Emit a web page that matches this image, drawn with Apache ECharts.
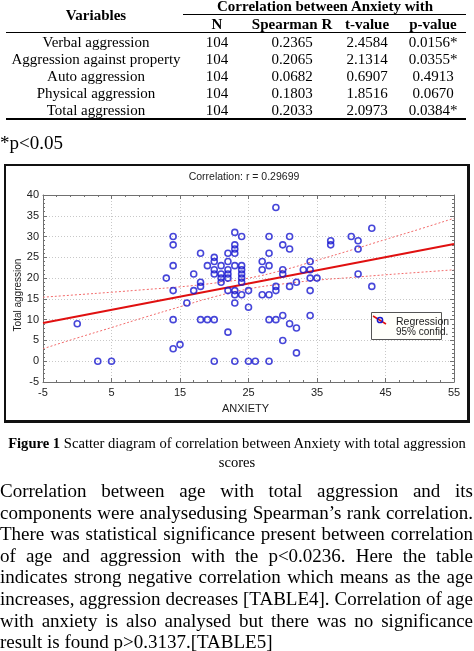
<!DOCTYPE html>
<html>
<head>
<meta charset="utf-8">
<script src="https://cdn.jsdelivr.net/npm/echarts@6/dist/echarts.min.js"></script>
<style>
html,body{margin:0;padding:0;background:#fff;}
body{width:474px;height:651px;position:relative;overflow:hidden;font-family:"Liberation Serif","Times New Roman",serif;color:#000;}
.t{position:absolute;white-space:nowrap;font-size:15px;line-height:15px;transform:translate(-50%,-50%);}
.b{font-weight:bold;}
.hl{position:absolute;background:#000;}
#frame{position:absolute;left:4px;top:164px;width:461px;height:254px;border:2px solid #111;border-right-width:3px;border-bottom-width:3px;}
#chart{position:absolute;left:0;top:0;width:474px;height:651px;}
.cap{position:absolute;left:0;width:474px;text-align:center;font-size:14.6px;line-height:19px;white-space:nowrap;}
.pl{position:absolute;left:0;width:473px;font-size:19px;line-height:21px;display:flex;justify-content:space-between;white-space:nowrap;}
.pl.last{justify-content:flex-start;}
</style>
</head>
<body>
<div id="frame"></div>
<div id="chart"></div>
<div id="table"></div>
<div class="t" style="left:0;top:142px;transform:translate(0,-50%);font-size:19px;line-height:19px;">*p&lt;0.05</div>
<div class="cap" style="top:434px;"><b>Figure 1</b> Scatter diagram of correlation between Anxiety with total aggression</div>
<div class="cap" style="top:453px;">scores</div>
<div id="para"></div>
<script>
// ---- table data ----
const tableTitle = "Correlation between Anxiety with";
const tableHeaders = ["N", "Spearman R", "t-value", "p-value"];
const variables = ["Verbal aggression", "Aggression against property", "Auto aggression", "Physical aggression", "Total aggression"];
const nValues = ["104", "104", "104", "104", "104"];
const spearmanR = ["0.2365", "0.2065", "0.0682", "0.1803", "0.2033"];
const tValues = ["2.4584", "2.1314", "0.6907", "1.8516", "2.0973"];
const pValues = ["0.0156*", "0.0355*", "0.4913", "0.0670", "0.0384*"];

// ---- chart data ----
const anxiety = [0,3,5,13,14,14,14,14,14,14,15,16,17,17,18,18,18,18,19,19,20,20,20,20,20,20,21,21,21,21,22,22,22,22,22,22,22,23,23,23,23,23,23,23,23,23,24,24,24,24,24,24,24,25,25,25,26,27,27,27,28,28,28,28,28,28,29,29,29,29,30,30,30,30,30,31,31,31,31,32,32,32,33,34,34,34,34,34,35,37,37,40,41,41,41,43,43];
const aggression = [9,0,0,20,30,28,23,17,10,3,4,14,21,17,26,19,18,10,23,10,25,24,22,21,10,0,23,21,20,19,26,24,22,21,20,17,7,31,28,27,26,23,17,16,14,0,30,23,22,21,20,19,16,17,13,0,0,24,22,16,30,26,23,16,10,0,37,18,17,10,28,22,21,11,5,30,27,18,9,19,8,2,22,24,22,20,17,11,20,29,28,30,29,27,21,32,18];
const regX = [-5, 55];
const regY = [9.2, 28.2];
const ciX = [-5, 0, 5, 10, 15, 20, 25, 30, 35, 40, 45, 50, 55];
const ciUpper = [15.4, 16.0, 16.6, 17.25, 17.9, 18.8, 20.0, 21.9, 24.3, 26.75, 29.3, 31.8, 34.4];
const ciLower = [3.0, 5.6, 8.1, 10.65, 13.1, 15.5, 17.4, 18.6, 19.5, 20.15, 20.8, 21.4, 22.0];
const xTicks = [-5, 55, 10];   // min, max, interval
const yTicks = [-5, 40, 5];
const chartTitle = "Correlation: r = 0.29699";
const xName = "ANXIETY";
const yName = "Total aggression";
const legendItems = ["Regression", "95% confid."];

// ---- paragraph ----
const paraLines = [
  "Correlation between age with total aggression and its",
  "components were analysedusing Spearman\u2019s rank correlation.",
  "There was statistical significance present between correlation",
  "of age and aggression with the p<0.0236. Here the table",
  "indicates strong negative correlation which means as the age",
  "increases, aggression decreases [TABLE4]. Correlation of age",
  "with anxiety is also analysed but there was no significance",
  "result is found p>0.3137.[TABLE5]"
];

// build table
(function(){
  const t = document.getElementById('table');
  function add(txt, x, y, bold){
    const d = document.createElement('div');
    d.className = 't' + (bold ? ' b' : '');
    d.style.left = x + 'px'; d.style.top = y + 'px';
    d.textContent = txt; t.appendChild(d);
  }
  function line(x, y, w, h){
    const d = document.createElement('div');
    d.className = 'hl';
    d.style.left = x + 'px'; d.style.top = y + 'px';
    d.style.width = w + 'px'; d.style.height = h + 'px';
    t.appendChild(d);
  }
  const colX = [96, 217, 292, 367, 433];
  add("Variables", colX[0], 15, true);
  add(tableTitle, 325, 6, true);
  line(183, 14, 283, 1);
  tableHeaders.forEach((h, i) => add(h, colX[i + 1], 24, true));
  line(6, 32, 460, 1);
  const rowY = [42, 59, 76, 93, 110];
  variables.forEach((v, i) => {
    add(v, colX[0], rowY[i]);
    add(nValues[i], colX[1], rowY[i]);
    add(spearmanR[i], colX[2], rowY[i]);
    add(tValues[i], colX[3], rowY[i]);
    add(pValues[i], colX[4], rowY[i]);
  });
  line(6, 118, 460, 2);
})();

// build paragraph
(function(){
  const p = document.getElementById('para');
  paraLines.forEach((l, i) => {
    const d = document.createElement('div');
    d.className = 'pl' + (i === paraLines.length - 1 ? ' last' : '');
    d.style.top = (480 + i * 21.6) + 'px';
    if (i === paraLines.length - 1) {
      d.textContent = l;
    } else {
      l.split(' ').forEach(w => {
        const s = document.createElement('span');
        s.textContent = w; d.appendChild(s);
      });
    }
    p.appendChild(d);
  });
})();

// chart
const chart = echarts.init(document.getElementById('chart'), null, {renderer: 'canvas'});
const narrow = '"Liberation Sans Narrow", "Arial Narrow", "Liberation Sans", sans-serif';
const axisGray = '#707070';
const gridLeft = 43, gridTop = 195, gridW = 411, gridH = 187;
function baseAxis(range, extra){
  return Object.assign({
    type: 'value', min: range[0], max: range[1], interval: range[2],
    axisLine: {show: true, onZero: false, lineStyle: {color: axisGray, width: 1}},
    axisTick: {show: true, inside: true, length: 4, lineStyle: {color: axisGray}},
    minorTick: {show: true, splitNumber: 5, length: 2, lineStyle: {color: axisGray}},
    splitLine: {show: false},
    axisLabel: {show: false}
  }, extra);
}
const option = {
  backgroundColor: 'transparent',
  animation: false,
  grid: {left: gridLeft, top: gridTop, width: gridW, height: gridH, containLabel: false, outerBoundsMode: 'none'},
  xAxis: [
    baseAxis(xTicks, {
      position: 'bottom',
      name: xName, nameLocation: 'middle', nameGap: 21, nameMoveOverlap: false,
      nameTextStyle: {fontFamily: narrow, fontSize: 11, color: '#222', padding: [0, 6, 0, 0]},
      axisLabel: {show: true, margin: 5, fontFamily: narrow, fontSize: 11, color: '#222', hideOverlap: false},
      splitLine: {show: true, lineStyle: {color: '#c8c8c8', type: [1, 2], width: 1}}
    }),
    baseAxis(xTicks, {position: 'top'})
  ],
  yAxis: [
    baseAxis(yTicks, {
      position: 'left',
      name: yName, nameLocation: 'middle', nameGap: 20, nameMoveOverlap: false,
      nameTextStyle: {fontFamily: '"Liberation Sans", Arial, sans-serif', fontSize: 10, color: '#222', padding: [0, 13, 0, 0]},
      axisLabel: {show: true, margin: 4, fontFamily: narrow, fontSize: 11, color: '#222', hideOverlap: false},
      splitLine: {show: true, lineStyle: {color: '#c8c8c8', type: [1, 2], width: 1}}
    }),
    baseAxis(yTicks, {position: 'right'})
  ],
  series: [
    {
      type: 'line', name: 'upper', xAxisIndex: 0, yAxisIndex: 0,
      data: ciX.map((x, i) => [x, ciUpper[i]]), smooth: true, symbol: 'none',
      lineStyle: {color: '#f26a6a', width: 1, type: [2, 2]}, z: 2
    },
    {
      type: 'line', name: 'lower', xAxisIndex: 0, yAxisIndex: 0,
      data: ciX.map((x, i) => [x, ciLower[i]]), smooth: true, symbol: 'none',
      lineStyle: {color: '#f26a6a', width: 1, type: [2, 2]}, z: 2
    },
    {
      type: 'line', name: 'Regression', xAxisIndex: 0, yAxisIndex: 0,
      data: regX.map((x, i) => [x, regY[i]]), symbol: 'none',
      lineStyle: {color: '#e01010', width: 2}, z: 3
    },
    {
      type: 'scatter', name: 'points', xAxisIndex: 0, yAxisIndex: 0,
      data: anxiety.map((x, i) => [x, aggression[i]]),
      symbol: 'circle', symbolSize: 6,
      itemStyle: {color: 'rgba(0,0,0,0)', borderColor: '#1818d0', borderWidth: 1.6},
      z: 4
    }
  ],
  graphic: [
    {type: 'text', x: 244, y: 177, style: {text: chartTitle, align: 'center', verticalAlign: 'middle', font: '10.5px ' + narrow, fill: '#222'}},
    {type: 'rect', shape: {x: 371.5, y: 312.5, width: 70, height: 27}, style: {fill: '#fffffa', stroke: '#555', lineWidth: 1}, z: 10},
    {type: 'line', shape: {x1: 373, y1: 316, x2: 386, y2: 324}, style: {stroke: '#e01010', lineWidth: 1.5}, z: 11},
    {type: 'circle', shape: {cx: 380, cy: 320, r: 2.6}, style: {fill: 'none', stroke: '#1818d0', lineWidth: 1.5}, z: 12},
    {type: 'text', x: 396, y: 322, style: {text: legendItems[0], verticalAlign: 'middle', font: '10.5px ' + narrow, fill: '#222'}, z: 12},
    {type: 'text', x: 396, y: 332, style: {text: legendItems[1], verticalAlign: 'middle', font: '10px ' + narrow, fill: '#222'}, z: 12}
  ]
};
chart.setOption(option);
</script>
</body>
</html>
